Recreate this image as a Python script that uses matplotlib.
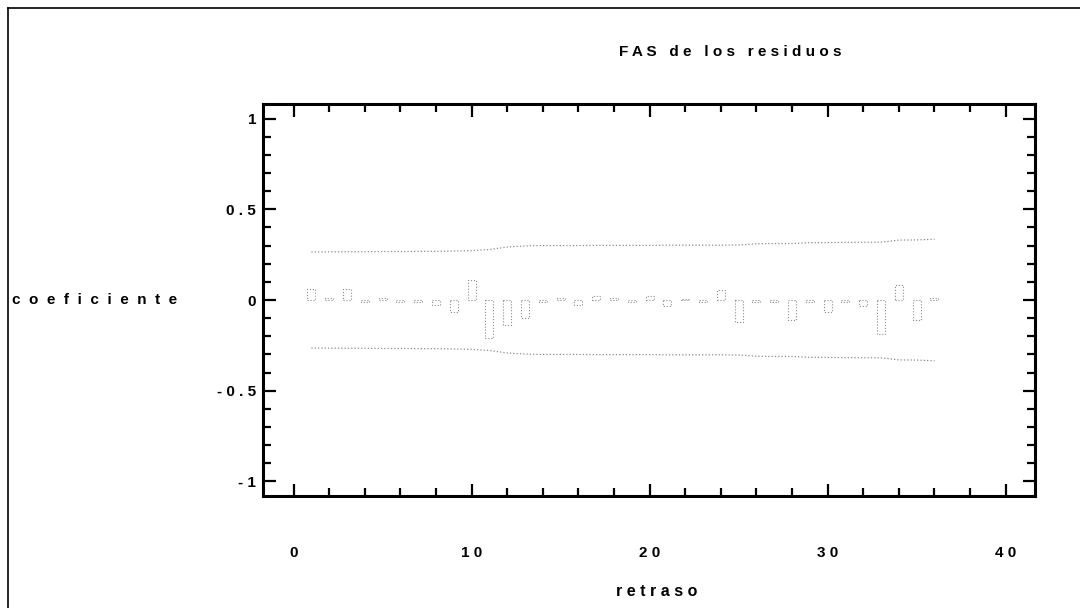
import numpy as np
import matplotlib
matplotlib.use("Agg")
import matplotlib.pyplot as plt
from matplotlib.lines import Line2D

# FAS (autocorrelacion simple) de los residuos, retrasos 1..36
lags = list(range(1, 37))
coef = [0.06, 0.01, 0.06, -0.01, 0.01, -0.01, -0.01, -0.03, -0.065, 0.11,
        -0.21, -0.14, -0.10, -0.01, 0.01, -0.03, 0.02, 0.01, -0.01, 0.02,
        -0.035, 0.005, -0.01, 0.055, -0.12, -0.01, -0.01, -0.11, -0.01, -0.065,
        -0.01, -0.035, -0.19, 0.08, -0.11, 0.01]
# limite superior de la banda de confianza (la inferior es simetrica)
band = [0.265, 0.265, 0.266, 0.266, 0.267, 0.267, 0.268, 0.268, 0.270, 0.272,
        0.278, 0.292, 0.298, 0.300, 0.300, 0.300, 0.301, 0.301, 0.301, 0.301,
        0.302, 0.302, 0.302, 0.302, 0.303, 0.310, 0.311, 0.311, 0.316, 0.316,
        0.318, 0.318, 0.319, 0.330, 0.331, 0.335]

xticks = [0, 10, 20, 30, 40]
xticklabels = ["0", "1 0", "2 0", "3 0", "4 0"]
yticks = [-1, -0.5, 0, 0.5, 1]
yticklabels = ["- 1", "- 0 . 5", "0", "0 . 5", "1"]

plt.rcParams['font.family'] = ['Liberation Sans', 'DejaVu Sans']

fig = plt.figure(figsize=(10.8, 6.08), dpi=100)
ax = fig.add_axes([263/1080, 1-496/608, (1035-263)/1080, (496-104)/608])

ax.bar(lags, coef, width=0.45, fill=False, edgecolor='#8a8a8a',
       linestyle=':', linewidth=0.8)
ax.plot(lags, band, color='#8a8a8a', linestyle=':', linewidth=0.9)
ax.plot(lags, [-b for b in band], color='#8a8a8a', linestyle=':', linewidth=0.9)

ax.set_xlim(-1.72, 41.65)
ax.set_ylim(-1.08, 1.08)

ax.set_xticks(xticks)
ax.set_xticklabels(xticklabels)
ax.set_xticks(np.arange(0, 41, 2), minor=True)
ax.set_yticks(yticks)
ax.set_yticklabels(yticklabels)
ax.set_yticks(np.arange(-1, 1.01, 0.1), minor=True)

ax.tick_params(which='both', direction='in', top=True, right=True, width=1.6, color='black')
ax.tick_params(which='major', length=9)
ax.tick_params(which='minor', length=6)
ax.tick_params(axis='x', which='major', pad=36, labelsize=11)
ax.tick_params(axis='y', which='major', pad=5, labelsize=11)
for lab in ax.get_xticklabels() + ax.get_yticklabels():
    lab.set_fontweight('bold')

for s in ax.spines.values():
    s.set_linewidth(2.2)

fig.text(730/1080, 1-52/608, "F A S   d e   l o s   r e s i d u o s",
         ha='center', va='center', fontsize=11, fontweight='bold')
fig.text(657/1080, 1-592/608, "r e t r a s o",
         ha='center', va='center', fontsize=11.5, fontweight='bold')
fig.text(12/1080, 1-300/608, "c  o  e  f  i  c  i  e  n  t  e",
         ha='left', va='center', fontsize=11, fontweight='bold')

# marco exterior de la pagina
fig.add_artist(Line2D([8/1080, 8/1080], [0, 1-8/608], transform=fig.transFigure,
                      color='black', linewidth=1.2))
fig.add_artist(Line2D([8/1080, 1], [1-8/608, 1-8/608], transform=fig.transFigure,
                      color='black', linewidth=1.2))

fig.savefig("out.png", dpi=100)
